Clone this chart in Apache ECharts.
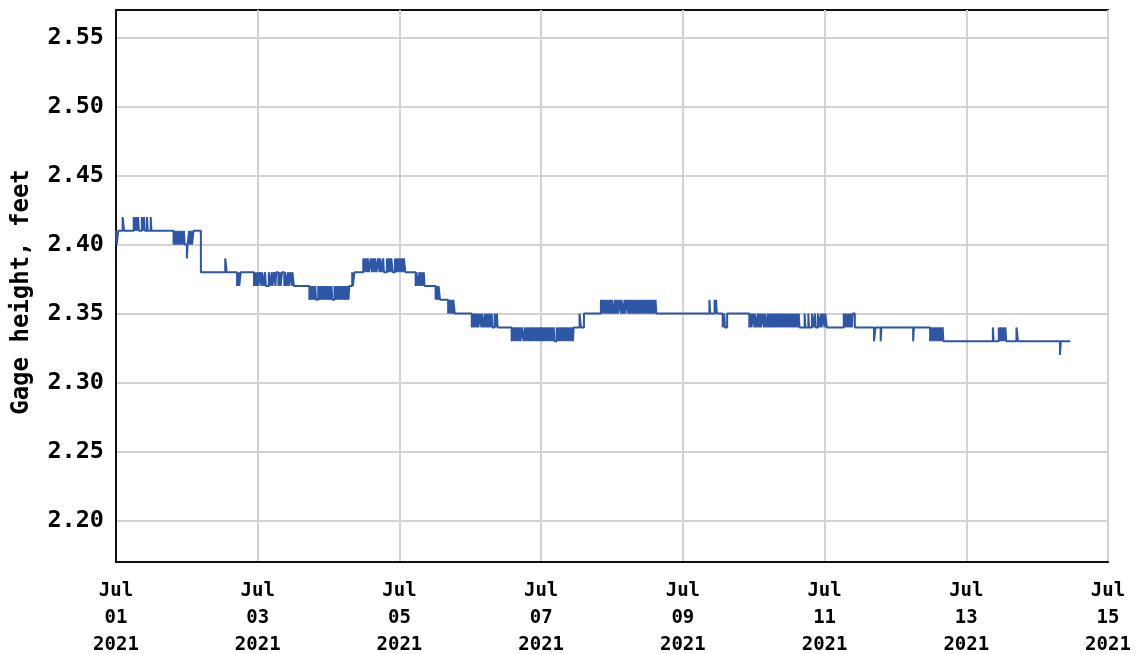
<!DOCTYPE html>
<html>
<head>
<meta charset="utf-8">
<title>Gage height</title>
<script src="https://cdn.jsdelivr.net/npm/echarts@6/dist/echarts.min.js"></script>
<style>
  html, body { margin: 0; padding: 0; background: #fff; }
  #chart { width: 1137px; height: 654px; }
</style>
</head>
<body>
<div id="chart"></div>
<script>
// hours since Jul 01 2021 00:00 -> gage height (ft), value holds until next change
var stepsJul01 = [
  [0, 2.41], [0.25, 2.40], [0.75, 2.41], [2.25, 2.42], [2.75, 2.41],
  [6.0, 2.42], [6.5, 2.41], [6.75, 2.42], [7.25, 2.41], [7.5, 2.42], [7.75, 2.41], [8.75, 2.42],
  [9.0, 2.41], [9.5, 2.42], [9.75, 2.41], [10.5, 2.42], [10.75, 2.41], [11.75, 2.42], [12.0, 2.41],
  [19.5, 2.40], [20.0, 2.41], [20.25, 2.40], [20.75, 2.41], [21.0, 2.40], [21.5, 2.41], [21.75, 2.40],
  [22.25, 2.41], [22.5, 2.40], [23.0, 2.41], [23.25, 2.40]
];
var stepsJul02 = [
  [24.0, 2.39], [24.25, 2.40], [24.75, 2.41], [25.0, 2.40], [25.5, 2.41], [25.75, 2.40], [26.25, 2.41],
  [28.75, 2.38], [37.0, 2.39], [37.5, 2.38], [41.0, 2.37], [41.5, 2.38], [41.75, 2.37], [42.25, 2.38],
  [46.75, 2.37], [47.25, 2.38], [47.5, 2.37]
];
var stepsJul03 = [
  [48.0, 2.38], [48.25, 2.37], [48.75, 2.38], [49.25, 2.37], [49.5, 2.38], [50.0, 2.37], [50.5, 2.38],
  [50.75, 2.37], [51.75, 2.38], [52.25, 2.37], [52.75, 2.38], [53.0, 2.37], [53.5, 2.38], [54.0, 2.37],
  [54.25, 2.38], [55.0, 2.37], [55.5, 2.38], [55.75, 2.37], [56.25, 2.38], [57.0, 2.37], [57.25, 2.38],
  [57.75, 2.37], [58.25, 2.38], [58.5, 2.37], [59.0, 2.38], [59.5, 2.37], [59.75, 2.38], [60.25, 2.37],
  [65.5, 2.36], [66.0, 2.37], [66.25, 2.36], [66.75, 2.37], [67.0, 2.36], [67.5, 2.37], [67.75, 2.36],
  [68.5, 2.37], [68.75, 2.36], [69.25, 2.37], [69.5, 2.36], [70.0, 2.37], [70.25, 2.36], [70.75, 2.37],
  [71.0, 2.36], [71.5, 2.37], [71.75, 2.36]
];
var stepsJul04 = [
  [72.25, 2.37], [72.5, 2.36], [73.0, 2.37], [73.25, 2.36], [74.0, 2.37], [74.25, 2.36], [74.75, 2.37],
  [75.0, 2.36], [75.5, 2.37], [75.75, 2.36], [76.25, 2.37], [76.5, 2.36], [77.0, 2.37], [77.25, 2.36],
  [77.75, 2.37], [78.0, 2.36], [78.5, 2.37], [78.75, 2.36], [79.0, 2.37],
  [80.0, 2.38], [80.25, 2.37], [80.75, 2.38],
  [83.75, 2.39], [84.25, 2.38], [84.5, 2.39], [85.0, 2.38], [85.25, 2.39], [85.75, 2.38], [86.25, 2.39],
  [86.75, 2.38], [87.0, 2.39], [87.5, 2.38], [87.75, 2.39], [88.25, 2.38], [88.75, 2.39], [89.25, 2.38],
  [89.5, 2.39], [90.0, 2.38], [90.5, 2.39], [90.75, 2.38], [91.75, 2.39], [92.25, 2.38], [92.5, 2.39],
  [93.0, 2.38], [93.25, 2.39], [93.75, 2.38], [94.5, 2.39], [95.0, 2.38], [95.25, 2.39], [95.75, 2.38]
];
var stepsJul05 = [
  [96.0, 2.39], [96.5, 2.38], [96.75, 2.39], [97.25, 2.38], [97.5, 2.39], [98.0, 2.38],
  [101.5, 2.37], [101.75, 2.38], [102.25, 2.37], [102.75, 2.38], [103.0, 2.37], [103.5, 2.38],
  [103.75, 2.37], [104.25, 2.38], [104.5, 2.37],
  [108.25, 2.36], [108.5, 2.37], [109.0, 2.36], [109.25, 2.37], [109.75, 2.36],
  [112.5, 2.35], [112.75, 2.36], [113.25, 2.35], [113.5, 2.36], [114.0, 2.35], [114.25, 2.36], [114.75, 2.35]
];
var stepsJul06 = [
  [120.5, 2.34], [121.0, 2.35], [121.25, 2.34], [121.75, 2.35], [122.0, 2.34], [122.5, 2.35], [122.75, 2.34],
  [123.25, 2.35], [123.75, 2.34], [124.0, 2.35], [124.5, 2.34], [125.0, 2.35], [125.25, 2.34], [125.75, 2.35],
  [126.0, 2.34], [126.5, 2.35], [126.75, 2.34], [127.25, 2.35], [127.5, 2.34], [128.25, 2.35], [128.5, 2.34],
  [129.0, 2.35], [129.25, 2.34],
  [134.0, 2.33], [134.5, 2.34], [134.75, 2.33], [135.25, 2.34], [135.5, 2.33], [136.0, 2.34], [136.25, 2.33],
  [136.75, 2.34], [137.0, 2.33], [137.5, 2.34], [138.0, 2.33], [138.5, 2.34], [138.75, 2.33], [139.25, 2.34],
  [139.5, 2.33], [140.0, 2.34], [140.25, 2.33], [140.75, 2.34], [141.0, 2.33], [141.5, 2.34], [141.75, 2.33],
  [142.25, 2.34], [142.5, 2.33], [143.0, 2.34], [143.25, 2.33], [143.75, 2.34]
];
var stepsJul07 = [
  [144.0, 2.33], [144.5, 2.34], [144.75, 2.33], [145.25, 2.34], [145.5, 2.33], [146.0, 2.34], [146.25, 2.33],
  [146.75, 2.34], [147.0, 2.33], [147.5, 2.34], [147.75, 2.33], [148.25, 2.34], [148.5, 2.33], [149.25, 2.34],
  [149.5, 2.33], [150.0, 2.34], [150.25, 2.33], [150.75, 2.34], [151.0, 2.33], [151.5, 2.34], [151.75, 2.33],
  [152.25, 2.34], [152.5, 2.33], [153.0, 2.34], [153.25, 2.33], [153.75, 2.34], [154.0, 2.33], [154.5, 2.34],
  [154.75, 2.33], [155.0, 2.34],
  [157.0, 2.35], [157.5, 2.34], [158.5, 2.35],
  [164.25, 2.36], [164.75, 2.35], [165.0, 2.36], [165.5, 2.35], [165.75, 2.36], [166.25, 2.35], [166.5, 2.36],
  [167.0, 2.35], [167.25, 2.36], [167.75, 2.35]
];
var stepsJul08 = [
  [168.0, 2.36], [168.5, 2.35], [169.0, 2.36], [169.25, 2.35], [169.75, 2.36], [170.0, 2.35], [170.5, 2.36],
  [171.0, 2.35], [171.25, 2.36], [171.75, 2.35], [172.25, 2.36], [172.5, 2.35], [173.0, 2.36], [173.5, 2.35],
  [173.75, 2.36], [174.25, 2.35], [174.5, 2.36], [175.0, 2.35], [175.25, 2.36], [175.75, 2.35], [176.0, 2.36],
  [176.5, 2.35], [176.75, 2.36], [177.25, 2.35], [177.5, 2.36], [178.0, 2.35], [178.25, 2.36], [178.75, 2.35],
  [179.0, 2.36], [179.5, 2.35], [179.75, 2.36], [180.25, 2.35], [180.5, 2.36], [181.0, 2.35], [181.25, 2.36],
  [181.75, 2.35], [182.0, 2.36], [182.5, 2.35], [182.75, 2.36], [183.0, 2.35]
];
var stepsJul09 = [
  [201.0, 2.36], [201.25, 2.35], [202.75, 2.36], [203.0, 2.35], [203.25, 2.36], [203.5, 2.35],
  [205.5, 2.34], [206.0, 2.35], [206.25, 2.34], [207.0, 2.35],
  [214.5, 2.34], [215.0, 2.35], [215.25, 2.34], [215.75, 2.35]
];
var stepsJul10 = [
  [216.25, 2.34], [216.5, 2.35], [217.0, 2.34], [217.5, 2.35], [217.75, 2.34], [218.25, 2.35], [218.5, 2.34],
  [219.0, 2.35], [219.5, 2.34], [219.75, 2.35], [220.25, 2.34], [220.75, 2.35], [221.0, 2.34], [221.5, 2.35],
  [221.75, 2.34], [222.25, 2.35], [222.5, 2.34], [223.0, 2.35], [223.25, 2.34], [223.75, 2.35], [224.0, 2.34],
  [224.5, 2.35], [224.75, 2.34], [225.25, 2.35], [225.5, 2.34], [226.0, 2.35], [226.25, 2.34], [226.75, 2.35],
  [227.0, 2.34], [227.5, 2.35], [227.75, 2.34], [228.25, 2.35], [228.5, 2.34], [229.0, 2.35], [229.25, 2.34],
  [229.75, 2.35], [230.0, 2.34], [230.5, 2.35], [230.75, 2.34], [231.25, 2.35], [231.5, 2.34],
  [233.25, 2.35], [233.5, 2.34], [234.5, 2.35], [234.75, 2.34], [235.75, 2.35], [236.25, 2.34],
  [236.75, 2.35], [237.0, 2.34], [237.75, 2.35], [238.25, 2.34], [238.75, 2.35], [239.0, 2.34]
];
var stepsJul11 = [
  [239.5, 2.35], [240.0, 2.34], [240.25, 2.35], [240.75, 2.34],
  [246.5, 2.35], [247.0, 2.34], [247.25, 2.35], [247.75, 2.34], [248.0, 2.35], [248.5, 2.34], [248.75, 2.35],
  [249.25, 2.34], [249.5, 2.35], [250.25, 2.34],
  [256.75, 2.33], [257.25, 2.34], [259.0, 2.33], [259.25, 2.34]
];
var stepsJul12 = [
  [270.0, 2.33], [270.25, 2.34],
  [275.75, 2.33], [276.25, 2.34], [276.5, 2.33], [277.0, 2.34], [277.25, 2.33], [277.75, 2.34], [278.0, 2.33],
  [278.5, 2.34], [278.75, 2.33], [279.25, 2.34], [279.5, 2.33], [280.0, 2.34], [280.25, 2.33]
];
var stepsJul13 = [
  [297.0, 2.34], [297.25, 2.33], [299.0, 2.34], [299.5, 2.33], [299.75, 2.34], [300.25, 2.33],
  [300.5, 2.34], [301.0, 2.33], [301.25, 2.34], [301.5, 2.33], [305.0, 2.34], [305.5, 2.33]
];
var stepsJul14 = [
  [319.75, 2.32], [320.0, 2.33], [323.25, 2.33]
];

var xTicks = [0, 48, 96, 144, 192, 240, 288, 336];   // Jul 01 .. Jul 15
var yTicks = [2.20, 2.25, 2.30, 2.35, 2.40, 2.45, 2.50, 2.55];

var gage = [].concat(stepsJul01, stepsJul02, stepsJul03, stepsJul04, stepsJul05, stepsJul06,
  stepsJul07, stepsJul08, stepsJul09, stepsJul10, stepsJul11, stepsJul12, stepsJul13, stepsJul14);

var monoFont = 'DejaVu Sans Mono';

var chart = echarts.init(document.getElementById('chart'));
chart.setOption({
  animation: false,
  backgroundColor: '#fff',
  grid: {
    left: 116, right: 29, top: 10, bottom: 92,
    outerBoundsMode: 'none',
    containLabel: false,
    show: true, borderColor: '#111', borderWidth: 2
  },
  xAxis: {
    type: 'value',
    min: 0, max: 336, interval: 48,
    axisLine: { show: true, lineStyle: { color: '#111', width: 2 } },
    axisTick: { show: false },
    splitLine: { show: true, lineStyle: { color: '#d2d2d2', width: 2 } },
    axisLabel: {
      fontFamily: monoFont, fontWeight: 'bold', color: '#000',
      fontSize: 19, lineHeight: 27, margin: 16,
      formatter: function (v) {
        var d = 1 + Math.round(v / 24);
        return 'Jul\n' + (d < 10 ? '0' + d : d) + '\n2021';
      }
    }
  },
  yAxis: {
    type: 'value',
    min: 2.17, max: 2.57,
    name: 'Gage height, feet',
    nameLocation: 'middle',
    nameGap: 82,
    nameTextStyle: {
      fontFamily: monoFont, fontWeight: 'bold', fontSize: 24, color: '#000',
      padding: [0, 12, 0, 0]
    },
    axisLine: { show: true, lineStyle: { color: '#111', width: 2 } },
    axisTick: { show: false, customValues: yTicks },
    splitLine: { show: true, lineStyle: { color: '#d2d2d2', width: 2 } },
    axisLabel: {
      customValues: yTicks,
      fontFamily: monoFont, fontWeight: 'bold', color: '#000',
      fontSize: 23.5, margin: 12,
      formatter: function (v) { return v.toFixed(2); }
    }
  },
  series: [{
    type: 'line',
    step: 'end',
    showSymbol: false,
    data: gage,
    lineStyle: { color: '#2d56a6', width: 2 },
    itemStyle: { color: '#2d56a6' }
  }]
});
</script>
</body>
</html>
